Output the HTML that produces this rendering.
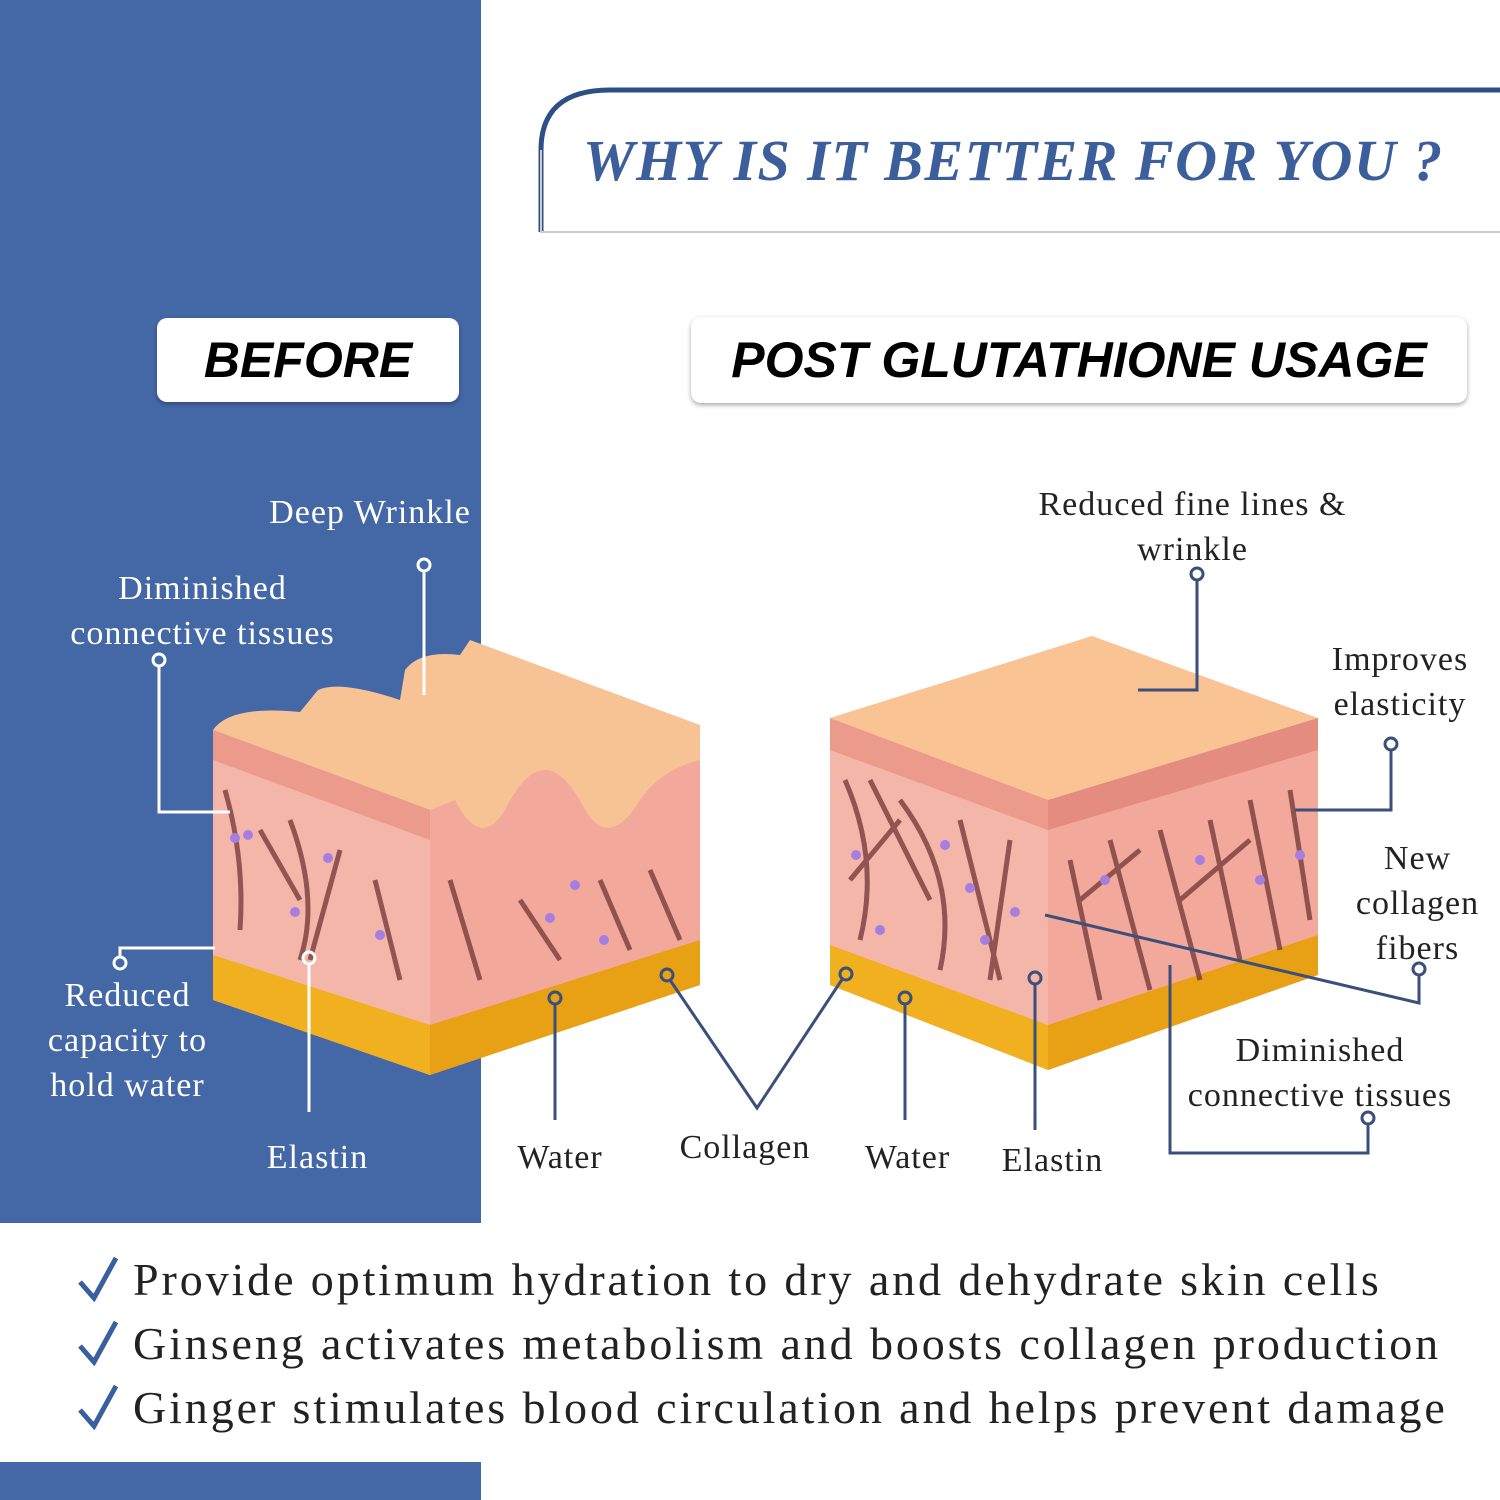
<!DOCTYPE html>
<html><head><meta charset="utf-8"><style>
body{margin:0;width:1500px;height:1500px;background:#fff;position:relative;overflow:hidden;font-family:"Liberation Serif",serif}
.abs{position:absolute}
.lbl{position:absolute;font-size:34px;color:#222;text-align:center;line-height:45px;letter-spacing:1px;white-space:nowrap}
.wl{color:#fff}
</style></head><body>
<div class="abs" style="left:0;top:0;width:481px;height:1223px;background:#4467a6"></div>
<div class="abs" style="left:0;top:1462px;width:481px;height:38px;background:#4467a6"></div>

<svg class="abs" style="left:0;top:0" width="1500" height="1500">
<path d="M541 232 L541 150 Q541 90 610 90 L1500 90" fill="none" stroke="#2e4f86" stroke-width="5"/>
<path d="M541 150 L541 232 L1500 232" fill="none" stroke="#ccc" stroke-width="2"/>
<!-- Left block -->
<polygon points="213,730 430,810 430,1075 213,1000" fill="#f4b6a8"/>
<polygon points="430,790 700,725 700,985 430,1075" fill="#f2a99b"/>
<polygon points="213,955 430,1025 430,1075 213,1000" fill="#f0b020"/>
<polygon points="430,1025 700,940 700,985 430,1075" fill="#e8a015"/>
<path d="M213 730 Q230 705 300 712 L318 690 Q340 680 400 700 L405 670 Q420 650 460 655 L470 640 L700 725 L700 760 Q660 770 640 800 Q610 850 585 810 Q545 730 505 810 Q480 850 455 800 L430 810 Z" fill="#f7c394"/>
<path d="M213 730 L430 810 L430 840 L213 760Z" fill="#eb9a8c"/>
<!-- Right block -->
<polygon points="830,718 1092,636 1318,718 1048,800" fill="#fac394"/>
<polygon points="830,718 1048,800 1048,1070 830,985" fill="#f4b6a8"/>
<polygon points="1048,800 1318,718 1318,975 1048,1070" fill="#f2a99b"/>
<polygon points="830,945 1048,1025 1048,1070 830,985" fill="#f0b020"/>
<polygon points="1048,1025 1318,935 1318,975 1048,1070" fill="#e8a015"/>
<polygon points="830,718 1048,800 1048,830 830,750" fill="#eb9a8c"/>
<polygon points="1048,800 1318,718 1318,750 1048,830" fill="#e48c80"/>
<g stroke="#7a3c3c" stroke-width="5" fill="none" opacity=".8">
<path d="M225 790 Q245 860 240 930"/><path d="M260 830 L300 900"/><path d="M290 820 Q320 900 300 960"/><path d="M340 850 L310 960"/><path d="M375 880 L400 980"/><path d="M450 880 L480 980"/><path d="M520 900 L560 960"/><path d="M650 870 L680 940"/><path d="M600 880 L630 950"/>
<path d="M845 780 Q880 860 860 940"/><path d="M870 780 L930 900"/><path d="M900 800 Q960 880 940 970"/><path d="M960 820 L1000 980"/><path d="M1010 840 L990 980"/><path d="M850 880 L900 820"/>
<path d="M1070 860 L1100 1000"/><path d="M1110 840 L1150 990"/><path d="M1160 830 L1200 980"/><path d="M1210 820 L1240 960"/><path d="M1250 800 L1280 950"/><path d="M1290 790 L1310 920"/><path d="M1080 900 L1140 850"/><path d="M1180 900 L1250 840"/>
</g>
<g fill="#a67ee0">
<circle cx="235" cy="838" r="5"/><circle cx="248" cy="835" r="5"/><circle cx="295" cy="912" r="5"/><circle cx="328" cy="858" r="5"/><circle cx="380" cy="935" r="5"/><circle cx="575" cy="885" r="5"/><circle cx="604" cy="940" r="5"/><circle cx="550" cy="918" r="5"/>
<circle cx="856" cy="855" r="5"/><circle cx="880" cy="930" r="5"/><circle cx="945" cy="845" r="5"/><circle cx="970" cy="888" r="5"/><circle cx="985" cy="940" r="5"/><circle cx="1015" cy="912" r="5"/><circle cx="1105" cy="880" r="5"/><circle cx="1200" cy="860" r="5"/><circle cx="1260" cy="880" r="5"/><circle cx="1300" cy="855" r="5"/>
</g>
<!-- Connectors -->
<g stroke="#fff" stroke-width="3" fill="none">
<circle cx="424" cy="565" r="6"/><path d="M424 571 V695"/>
<circle cx="159" cy="660" r="6"/><path d="M159 666 V812 H230"/>
<circle cx="120" cy="963" r="6"/><path d="M120 957 V948 H215"/>
<circle cx="309" cy="958" r="6"/><path d="M309 964 V1112"/>
</g>
<g stroke="#3a4f7a" stroke-width="3" fill="none">
<circle cx="555" cy="998" r="6"/><path d="M555 1004 V1120"/>
<circle cx="667" cy="975" r="6"/><path d="M670 980 L757 1108 L843 978"/><circle cx="846" cy="974" r="6"/>
<circle cx="905" cy="998" r="6"/><path d="M905 1004 V1120"/>
<circle cx="1035" cy="978" r="6"/><path d="M1035 984 V1130"/>
<circle cx="1197" cy="574" r="6"/><path d="M1197 580 V690 H1138"/>
<circle cx="1391" cy="744" r="6"/><path d="M1391 750 V810 H1295"/>
<circle cx="1419" cy="969" r="6"/><path d="M1419 975 V1003 L1045 915"/>
<circle cx="1368" cy="1118" r="6"/><path d="M1368 1124 V1153 H1170 V965"/>
</g>
<g stroke="#3a5f9e" stroke-width="5" fill="none">
<path d="M80 1282 L94 1298 L116 1258"/><path d="M80 1346 L94 1362 L116 1322"/><path d="M80 1410 L94 1426 L116 1386"/>
</g>
</svg>

<div class="abs" style="left:583px;top:127px;font-family:'Liberation Serif',serif;font-weight:bold;font-style:italic;font-size:58px;letter-spacing:1.5px;color:#3c5f9c;white-space:nowrap">WHY IS IT BETTER FOR YOU ?</div>
<div class="abs" style="left:157px;top:318px;width:302px;height:84px;background:#fff;border-radius:10px;box-shadow:0 2px 4px rgba(0,0,0,.3);font-weight:bold;font-style:italic;font-size:50px;line-height:84px;text-align:center;font-family:'Liberation Sans',sans-serif">BEFORE</div>
<div class="abs" style="left:691px;top:317px;width:776px;height:86px;background:#fff;border-radius:10px;box-shadow:0 2px 5px rgba(0,0,0,.35);font-weight:bold;font-style:italic;font-size:50px;line-height:86px;text-align:center;font-family:'Liberation Sans',sans-serif">POST GLUTATHIONE USAGE</div>

<div class="lbl wl" style="left:255px;top:490px;width:230px">Deep Wrinkle</div>
<div class="lbl wl" style="left:40px;top:566px;width:325px">Diminished<br>connective tissues</div>
<div class="lbl wl" style="left:20px;top:973px;width:215px">Reduced<br>capacity to<br>hold water</div>
<div class="lbl wl" style="left:240px;top:1135px;width:155px">Elastin</div>
<div class="lbl" style="left:500px;top:1135px;width:120px">Water</div>
<div class="lbl" style="left:665px;top:1125px;width:160px">Collagen</div>
<div class="lbl" style="left:850px;top:1135px;width:115px">Water</div>
<div class="lbl" style="left:995px;top:1138px;width:115px">Elastin</div>
<div class="lbl" style="left:1015px;top:482px;width:355px">Reduced fine lines &amp;<br>wrinkle</div>
<div class="lbl" style="left:1315px;top:637px;width:170px">Improves<br>elasticity</div>
<div class="lbl" style="left:1340px;top:836px;width:155px">New<br>collagen<br>fibers</div>
<div class="lbl" style="left:1170px;top:1028px;width:300px">Diminished<br>connective tissues</div>

<div class="abs" style="left:133px;top:1248px;font-size:46px;letter-spacing:2.9px;line-height:64px;color:#222;white-space:nowrap">Provide optimum hydration to dry and dehydrate skin cells<br>Ginseng activates metabolism and boosts collagen production<br>Ginger stimulates blood circulation and helps prevent damage</div>
</body></html>
